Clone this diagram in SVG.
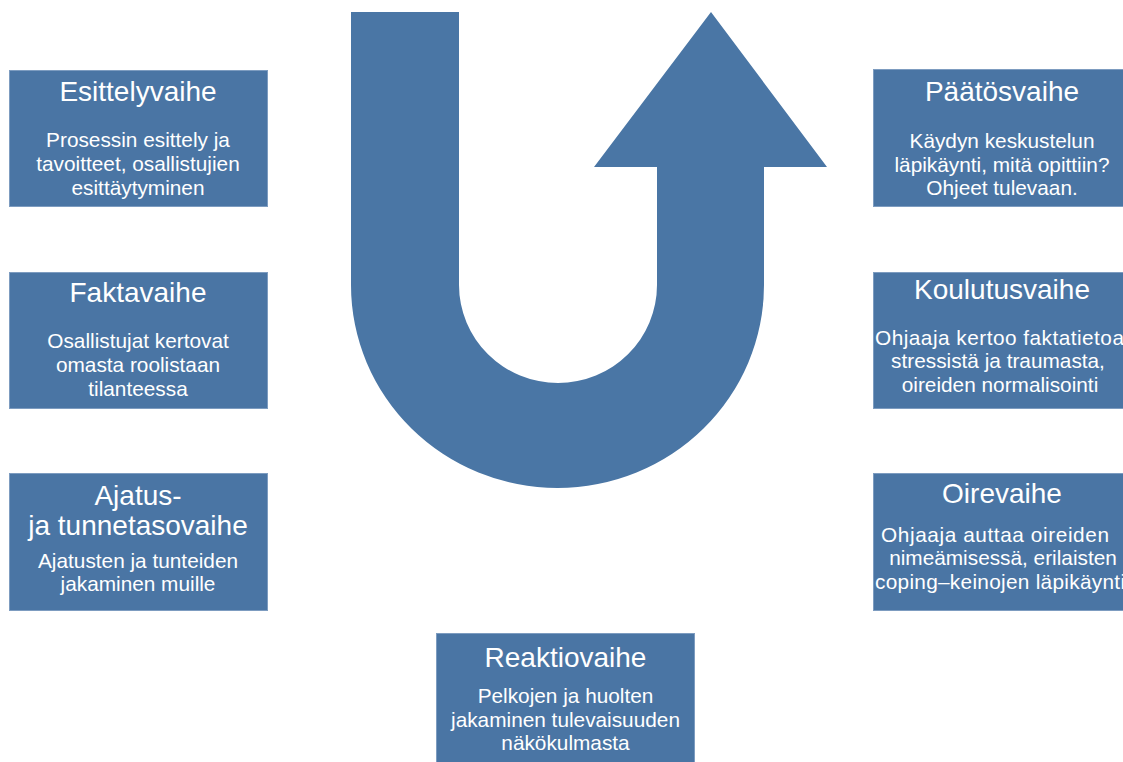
<svg xmlns="http://www.w3.org/2000/svg" width="1123" height="762" viewBox="0 0 1123 762">
<style>
.box{fill:#4a75a4;stroke:#7d9cc0;stroke-width:1}
.t{font-family:"Liberation Sans",Arial,sans-serif;fill:#ffffff;text-anchor:middle}
.s{text-anchor:start}
.h{font-size:28px}
.b{font-size:20.8px}
</style>
<rect width="1123" height="762" fill="#ffffff"/>
<g id="connectors">
<path id="u-arrow" d="M351,12 L459,12 L459,285 A99,98 0 0 0 657,285 L657,167 L594,167 L711,12 L827,167 L764,167 L764,285 A206.5,203 0 0 1 351,285 Z" fill="#4a76a5"/>
</g>
<g id="esittelyvaihe">
<rect class="box" x="9.5" y="70.5" width="258" height="136"/>
<text class="t h" x="138" y="101">Esittelyvaihe</text>
<text class="t b" x="138" y="147">Prosessin esittely ja</text>
<text class="t b" x="138" y="171">tavoitteet, osallistujien</text>
<text class="t b" x="138" y="195">esittäytyminen</text>
</g>
<g id="faktavaihe">
<rect class="box" x="9.5" y="272.5" width="258" height="136"/>
<text class="t h" x="138" y="302">Faktavaihe</text>
<text class="t b" x="138" y="348">Osallistujat kertovat</text>
<text class="t b" x="138" y="372">omasta roolistaan</text>
<text class="t b" x="138" y="396">tilanteessa</text>
</g>
<g id="ajatusvaihe">
<rect class="box" x="9.5" y="473.5" width="258" height="137"/>
<text class="t h" x="138" y="505">Ajatus-</text>
<text class="t h" x="138" y="535">ja tunnetasovaihe</text>
<text class="t b" x="138" y="568">Ajatusten ja tunteiden</text>
<text class="t b" x="138" y="591">jakaminen muille</text>
</g>
<g id="paatosvaihe">
<rect class="box" x="873.5" y="69.5" width="258" height="137"/>
<text class="t h" x="1002" y="101">Päätösvaihe</text>
<text class="t b" x="1002" y="148">Käydyn keskustelun</text>
<text class="t b" x="1002" y="172">läpikäynti, mitä opittiin?</text>
<text class="t b" x="1002" y="195">Ohjeet tulevaan.</text>
</g>
<g id="koulutusvaihe">
<rect class="box" x="873.5" y="272.5" width="258" height="136"/>
<text class="t h" x="1002" y="299">Koulutusvaihe</text>
<text class="t b s" x="875" y="345" textLength="249" lengthAdjust="spacing">Ohjaaja kertoo faktatietoa</text>
<text class="t b" x="998" y="368">stressistä ja traumasta,</text>
<text class="t b" x="1000" y="392">oireiden normalisointi</text>
</g>
<g id="oirevaihe">
<rect class="box" x="873.5" y="473.5" width="258" height="137"/>
<text class="t h" x="1002" y="503">Oirevaihe</text>
<text class="t b s" x="881" y="542" textLength="228" lengthAdjust="spacing">Ohjaaja auttaa oireiden</text>
<text class="t b" x="1003" y="565">nimeämisessä, erilaisten</text>
<text class="t b s" x="875" y="589" textLength="250" lengthAdjust="spacing">coping–keinojen läpikäynti</text>
</g>
<g id="reaktiovaihe">
<rect class="box" x="436.5" y="633.5" width="258" height="140"/>
<text class="t h" x="565.5" y="667">Reaktiovaihe</text>
<text class="t b" x="565.5" y="703">Pelkojen ja huolten</text>
<text class="t b" x="565.5" y="727">jakaminen tulevaisuuden</text>
<text class="t b" x="565.5" y="750">näkökulmasta</text>
</g>
</svg>
